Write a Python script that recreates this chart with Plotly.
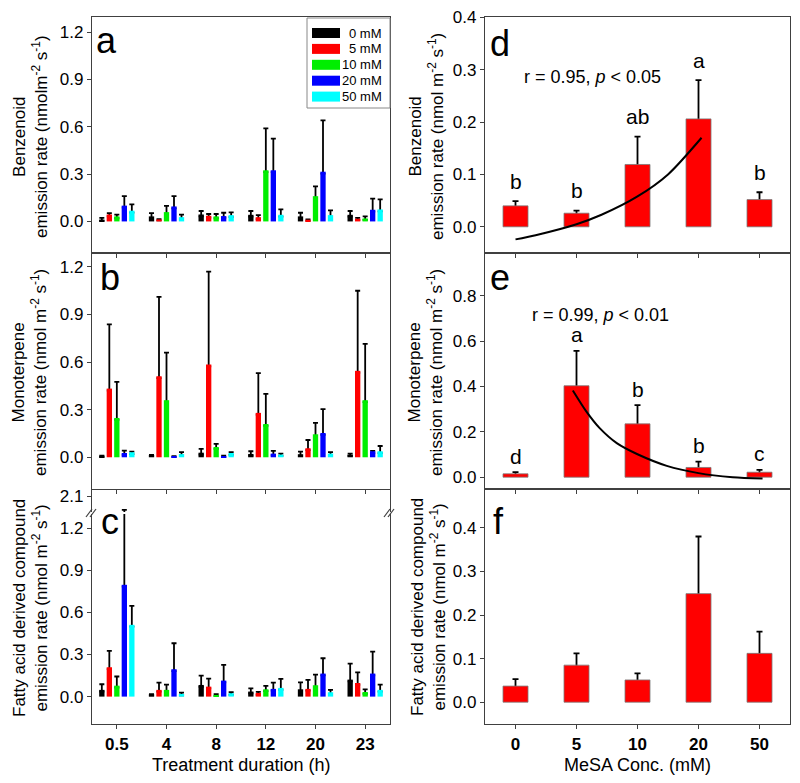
import plotly.graph_objects as go

# ---------------- data ----------------
durations = ["0.5", "4", "8", "12", "20", "23"]
series_names = ["0 mM", "5 mM", "10 mM", "20 mM", "50 mM"]
series_colors = ["#000000", "#ff0000", "#00ee00", "#0000ff", "#00ffff"]

# panel a: benzenoid, rows = 0,5,10,20,50 mM ; columns = durations
benz_mean = [
    [0.011, 0.032, 0.044, 0.042, 0.032, 0.042],
    [0.044, 0.013, 0.036, 0.027, 0.011, 0.017],
    [0.032, 0.059, 0.032, 0.324, 0.160, 0.019],
    [0.100, 0.095, 0.034, 0.324, 0.315, 0.074],
    [0.068, 0.027, 0.040, 0.042, 0.040, 0.076],
]
benz_err = [
    [0.012, 0.021, 0.022, 0.024, 0.023, 0.024],
    [0.009, 0.002, 0.011, 0.013, 0.002, 0.006],
    [0.011, 0.040, 0.015, 0.266, 0.062, 0.013],
    [0.060, 0.065, 0.021, 0.201, 0.325, 0.070],
    [0.040, 0.016, 0.017, 0.034, 0.030, 0.064],
]
# panel b: monoterpene
mono_mean = [
    [0.010, 0.015, 0.029, 0.021, 0.019, 0.017],
    [0.433, 0.511, 0.585, 0.280, 0.057, 0.545],
    [0.248, 0.360, 0.065, 0.210, 0.145, 0.360],
    [0.027, 0.005, 0.006, 0.023, 0.153, 0.038],
    [0.032, 0.020, 0.027, 0.017, 0.023, 0.038],
]
mono_err = [
    [0.000, 0.000, 0.024, 0.017, 0.017, 0.006],
    [0.405, 0.500, 0.585, 0.250, 0.052, 0.505],
    [0.227, 0.300, 0.019, 0.190, 0.072, 0.355],
    [0.015, 0.002, 0.004, 0.017, 0.150, 0.002],
    [0.004, 0.012, 0.005, 0.006, 0.009, 0.033],
]
# panel c: fatty acid derived compounds
fatty_mean = [
    [0.048, 0.017, 0.083, 0.036, 0.052, 0.121],
    [0.209, 0.048, 0.071, 0.026, 0.055, 0.097],
    [0.078, 0.048, 0.012, 0.052, 0.081, 0.033],
    [0.796, 0.195, 0.114, 0.055, 0.164, 0.164],
    [0.511, 0.019, 0.024, 0.062, 0.031, 0.048],
]
fatty_err = [
    [0.040, 0.000, 0.067, 0.023, 0.050, 0.114],
    [0.116, 0.052, 0.057, 0.007, 0.064, 0.076],
    [0.065, 0.038, 0.005, 0.024, 0.076, 0.019],
    [1.204, 0.185, 0.112, 0.045, 0.109, 0.156],
    [0.135, 0.010, 0.007, 0.064, 0.017, 0.038],
]

# right panels (MeSA concentration)
conc = ["0", "5", "10", "20", "50"]
d_mean = [0.040, 0.026, 0.119, 0.206, 0.052]
d_err = [0.009, 0.005, 0.053, 0.074, 0.014]
d_letters = ["b", "b", "ab", "a", "b"]
d_fit_x = [0.0, 0.33, 1.0, 1.41, 2.0, 2.5, 3.05]
d_fit_y = [-0.024, -0.016, 0.005, 0.023, 0.058, 0.100, 0.170]

e_mean = [0.015, 0.403, 0.235, 0.043, 0.022]
e_err = [0.007, 0.154, 0.083, 0.026, 0.010]
e_letters = ["d", "a", "b", "b", "c"]
e_fit_x = [0.94, 1.16, 1.38, 1.66, 2.0, 2.48, 3.0, 3.56, 4.05]
e_fit_y = [0.382, 0.290, 0.216, 0.150, 0.101, 0.050, 0.018, 0.000, -0.006]

f_mean = [0.037, 0.085, 0.051, 0.249, 0.112]
f_err = [0.016, 0.027, 0.015, 0.131, 0.050]

# ---------------- geometry helpers ----------------
W, H = 800, 783
FONT = "Liberation Sans, Arial, sans-serif"


def px(xp):
    return xp / W


def py(yp):
    return 1 - yp / H


LEFT = [px(92), px(390)]
RIGHT = [px(485), px(790)]
DOM_A = [py(253), py(17)]
DOM_B = [py(489), py(253)]
DOM_CL = [py(724), py(514)]
DOM_CU = [py(512), py(489)]
DOM_F = [py(724), py(489)]

fig = go.Figure()


def hide_shoe(means, errs, delta):
    """error trace drawn beneath the visible bar: hat at mean+err, shoe hidden inside bar"""
    minus = [min(delta, m * 0.5) for m in means]
    plus = [e + mi for e, mi in zip(errs, minus)]
    ys = [m - mi for m, mi in zip(means, minus)]
    return ys, plus


def add_grouped(means, errs, xa, ya, delta, visible_bars=True):
    for i in range(5):
        ys, plus = hide_shoe(means[i], errs[i], delta)
        fig.add_trace(go.Bar(
            x=durations, y=ys,
            marker=dict(color="rgba(0,0,0,0)", line=dict(width=0)),
            error_y=dict(type="data", symmetric=False, array=plus,
                         arrayminus=[0] * len(plus), color="black",
                         thickness=1.8, width=2.5),
            offsetgroup=str(i), xaxis=xa, yaxis=ya, showlegend=False,
            hoverinfo="skip"))
    if visible_bars:
        for i in range(5):
            fig.add_trace(go.Bar(
                x=durations, y=means[i], name=series_names[i],
                marker=dict(color=series_colors[i], line=dict(width=0)),
                offsetgroup=str(i), xaxis=xa, yaxis=ya, showlegend=False))


add_grouped(benz_mean, benz_err, "x", "y", 0.012)
add_grouped(mono_mean, mono_err, "x2", "y2", 0.012)
add_grouped(fatty_mean, fatty_err, "x3", "y3", 0.013)
add_grouped(fatty_mean, fatty_err, "x4", "y4", 0.013, visible_bars=False)

xr = list(range(len(conc)))


def add_single(means, errs, xa, ya, delta):
    ys, plus = hide_shoe(means, errs, delta)
    fig.add_trace(go.Bar(
        x=xr, y=ys, width=0.41,
        marker=dict(color="rgba(0,0,0,0)", line=dict(width=0)),
        error_y=dict(type="data", symmetric=False, array=plus,
                     arrayminus=[0] * len(plus), color="black",
                     thickness=1.8, width=3),
        offsetgroup="r", xaxis=xa, yaxis=ya, showlegend=False, hoverinfo="skip"))
    fig.add_trace(go.Bar(
        x=xr, y=means, width=0.41,
        marker=dict(color="#ff0000", line=dict(width=0.8, color="#7a7a7a")),
        offsetgroup="r", xaxis=xa, yaxis=ya, showlegend=False))


add_single(d_mean, d_err, "x5", "y5", 0.005)
add_single(e_mean, e_err, "x6", "y6", 0.010)
add_single(f_mean, f_err, "x7", "y7", 0.005)

fig.add_trace(go.Scatter(x=d_fit_x, y=d_fit_y, mode="lines",
                         line=dict(color="black", width=2, shape="spline", smoothing=0.8),
                         xaxis="x5", yaxis="y5", showlegend=False))
fig.add_trace(go.Scatter(x=e_fit_x, y=e_fit_y, mode="lines",
                         line=dict(color="black", width=2, shape="spline", smoothing=0.8),
                         xaxis="x6", yaxis="y6", showlegend=False))

# ---------------- axes ----------------
LC = "#404040"
base = dict(showline=True, linecolor=LC, linewidth=1.3, ticks="outside", ticklen=4,
            tickwidth=1.3, tickcolor=LC, showgrid=False, zeroline=False, automargin=False,
            tickfont=dict(family=FONT, size=17, color="black"))
bold = dict(family=FONT, size=17, color="black", weight="bold")

xcat = dict(base, type="category", categoryorder="array", categoryarray=durations,
            range=[-0.5, 5.5], domain=LEFT)
xlin = dict(base, range=[-0.5, 4.5], tickvals=xr, ticktext=conc, domain=RIGHT)

fig.update_layout(
    xaxis=dict(xcat, anchor="y", mirror=True, showticklabels=False),
    xaxis2=dict(xcat, anchor="y2", mirror=True, showticklabels=False),
    xaxis3=dict(xcat, anchor="y3", mirror=False, tickfont=bold),
    xaxis4=dict(xcat, anchor="y4", showline=False, ticks="", showticklabels=False),
    xaxis5=dict(xlin, anchor="y5", mirror=True, showticklabels=False),
    xaxis6=dict(xlin, anchor="y6", mirror=True, showticklabels=False),
    xaxis7=dict(xlin, anchor="y7", mirror=True, tickfont=bold),
    yaxis=dict(base, anchor="x", domain=DOM_A, range=[-0.2, 1.295], tick0=0, dtick=0.3,
               tickformat=".1f", mirror=True),
    yaxis2=dict(base, anchor="x2", domain=DOM_B, range=[-0.2, 1.288], tick0=0, dtick=0.3,
                tickformat=".1f", mirror=True),
    yaxis3=dict(base, anchor="x3", domain=DOM_CL, range=[-0.195, 1.30], tick0=0, dtick=0.3,
                tickformat=".1f", mirror=True),
    yaxis4=dict(base, anchor="x4", domain=DOM_CU, range=[1.985, 2.155], tickvals=[2.1],
                tickformat=".1f", mirror=True),
    yaxis5=dict(base, anchor="x5", domain=DOM_A, range=[-0.05, 0.4005], tick0=0, dtick=0.1,
                tickformat=".1f", mirror=True),
    yaxis6=dict(base, anchor="x6", domain=DOM_B, range=[-0.052, 0.988], tick0=0, dtick=0.2,
                tickformat=".1f", mirror=True),
    yaxis7=dict(base, anchor="x7", domain=DOM_F, range=[-0.05, 0.489], tick0=0, dtick=0.1,
                tickformat=".1f", mirror=True),
)

# ---------------- annotations ----------------
ann = []
TF = dict(family=FONT, size=17, color="black")
ytitles = [
    ("Benzenoid<br>emission rate (nmolm<sup>-2</sup> s<sup>-1</sup>)", 30, 137),
    ("Monoterpene<br>emission rate (nmol m<sup>-2</sup> s<sup>-1</sup>)", 30, 373),
    ("Fatty acid derived compound<br>emission rate (nmol m<sup>-2</sup> s<sup>-1</sup>)", 30, 608),
    ("Benzenoid<br>emission rate (nmol m<sup>-2</sup> s<sup>-1</sup>)", 426, 137),
    ("Monoterpene<br>emission rate (nmol m<sup>-2</sup> s<sup>-1</sup>)", 426, 373),
    ("Fatty acid derived compound<br>emission rate (nmol m<sup>-2</sup> s<sup>-1</sup>)", 428, 607),
]
for t, xx, yy in ytitles:
    ann.append(dict(text=t, x=px(xx), y=py(yy), xref="paper", yref="paper",
                    textangle=-90, showarrow=False, font=TF,
                    xanchor="center", yanchor="middle"))

# x-axis titles
ann.append(dict(text="Treatment duration (h)", x=px(241), y=py(765), xref="paper", yref="paper",
                showarrow=False, font=dict(family=FONT, size=18), xanchor="center", yanchor="middle"))
ann.append(dict(text="MeSA Conc. (mM)", x=px(637), y=py(765), xref="paper", yref="paper",
                showarrow=False, font=dict(family=FONT, size=18), xanchor="center", yanchor="middle"))

letters = [("a", 106, 40), ("b", 110, 278), ("c", 110, 521),
           ("d", 500, 44), ("e", 500, 277), ("f", 498, 521)]
for t, xx, yy in letters:
    ann.append(dict(text=t, x=px(xx), y=py(yy), xref="paper", yref="paper",
                    showarrow=False, font=dict(family=FONT, size=36, color="black"),
                    xanchor="center", yanchor="middle"))

for i, t in enumerate(d_letters):
    ann.append(dict(text=t, x=xr[i], y=d_mean[i] + d_err[i], xref="x5", yref="y5",
                    showarrow=False, yshift=20, font=dict(family=FONT, size=21),
                    xanchor="center", yanchor="middle"))
for i, t in enumerate(e_letters):
    ann.append(dict(text=t, x=xr[i], y=e_mean[i] + e_err[i], xref="x6", yref="y6",
                    showarrow=False, yshift=16, font=dict(family=FONT, size=21),
                    xanchor="center", yanchor="middle"))

ann.append(dict(text="r = 0.95, <i>p</i> &lt; 0.05", x=1.27, y=0.286, xref="x5", yref="y5",
                showarrow=False, font=dict(family=FONT, size=18)))
ann.append(dict(text="r = 0.99, <i>p</i> &lt; 0.01", x=1.39, y=0.715, xref="x6", yref="y6",
                showarrow=False, font=dict(family=FONT, size=18)))

shapes = []
# hand-built legend (box, wide swatches, right-aligned labels)
shapes.append(dict(type="rect", xref="paper", yref="paper", x0=px(307), x1=px(390),
                   y0=py(108), y1=py(18), line=dict(color="#888888", width=1),
                   fillcolor="white", layer="above"))
for i, name in enumerate(series_names):
    yc = 33 + i * 15.9
    shapes.append(dict(type="rect", xref="paper", yref="paper", x0=px(312), x1=px(340),
                       y0=py(yc + 5), y1=py(yc - 5), line=dict(width=0),
                       fillcolor=series_colors[i], layer="above"))
    ann.append(dict(text=name, x=px(384), y=py(yc), xref="paper", yref="paper",
                    showarrow=False, font=dict(family=FONT, size=13),
                    xanchor="right", yanchor="middle"))

# axis break marks on panel c
for bx in (92, 390):
    for dx in (-3, 1):
        shapes.append(dict(type="line", xref="paper", yref="paper",
                           x0=px(bx + dx - 3), y0=py(517), x1=px(bx + dx + 3), y1=py(509),
                           line=dict(color=LC, width=1.2)))

fig.update_layout(
    annotations=ann, shapes=shapes, showlegend=False,
    width=W, height=H, margin=dict(l=0, r=0, t=0, b=0),
    plot_bgcolor="white", paper_bgcolor="white",
    barmode="group", bargap=0.245, bargroupgap=0.29,
    font=dict(family=FONT, size=17, color="black"),
)

fig.write_html("out.html", config={"displayModeBar": False},
               post_script="document.body.style.margin='0';document.body.style.padding='0';")
